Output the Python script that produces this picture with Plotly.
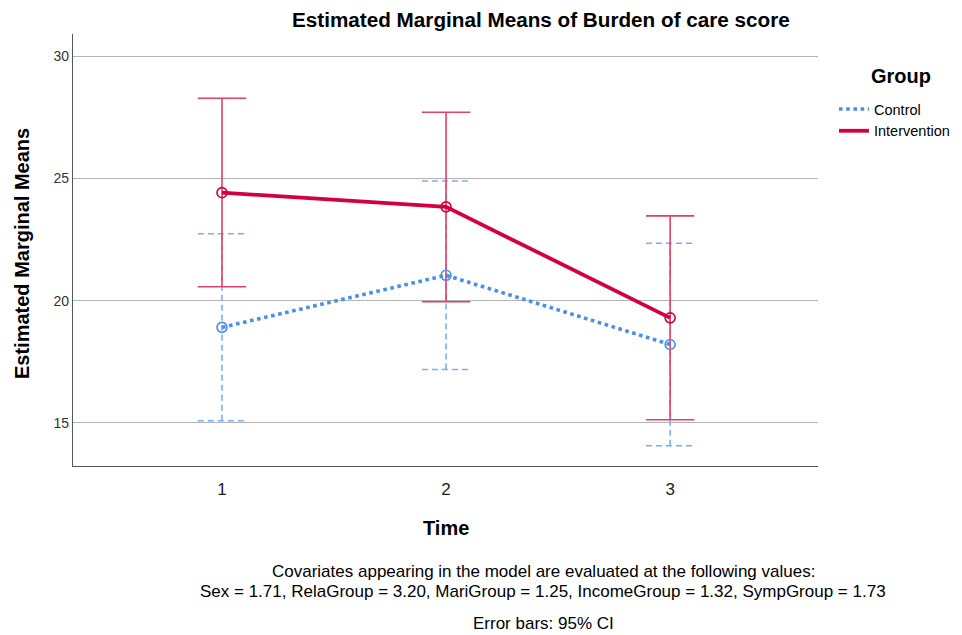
import plotly.graph_objects as go

time_points = [1, 2, 3]
groups = ["Control", "Intervention"]
control_mean = [18.91, 21.04, 18.21]
control_lower = [15.09, 17.19, 14.07]
control_upper = [22.74, 24.90, 22.35]
interv_mean = [24.42, 23.84, 19.30]
interv_lower = [20.57, 19.96, 15.13]
interv_upper = [28.28, 27.71, 23.47]
y_ticks = [15, 20, 25, 30]
x_ticks = [1, 2, 3]

title_text = "Estimated Marginal Means of Burden of care score"
footnote_1 = "Covariates appearing in the model are evaluated at the following values:"
footnote_2 = "Sex = 1.71, RelaGroup = 3.20, MariGroup = 1.25, IncomeGroup = 1.32, SympGroup = 1.73"
footnote_3 = "Error bars: 95% CI"

FONT = "Liberation Sans, Arial, sans-serif"
C_BLUE = "#4a8ee6"
C_BLUE_EB = "#7aaef0"
C_RED = "#d2003f"
C_RED_EB = "#e0406a"
CAP = 0.108

# page body has an 8px margin: figure origin sits at (8, 8) of the window
OFF = 8
W, H = 962 - OFF, 635 - OFF
L, T = 73 - OFF, 34 - OFF
PW, PH = 745, 432
R = W - L - PW
B = H - T - PH


def px(xr):
    return (xr - OFF - L) / PW


def py(yr):
    return (T + PH - (yr - OFF)) / PH


def errbar_xy(xs, lo, hi):
    ex, ey = [], []
    for x, a, b in zip(xs, lo, hi):
        ex += [x, x, None, x - CAP, x + CAP, None, x - CAP, x + CAP, None]
        ey += [a, b, None, a, a, None, b, b, None]
    return ex, ey


fig = go.Figure()

cx, cy = errbar_xy(time_points, control_lower, control_upper)
fig.add_trace(go.Scatter(x=cx, y=cy, mode="lines", showlegend=False, hoverinfo="skip",
                         line=dict(color=C_BLUE_EB, width=1.6, dash="6px,4px")))
ix, iy = errbar_xy(time_points, interv_lower, interv_upper)
fig.add_trace(go.Scatter(x=ix, y=iy, mode="lines", showlegend=False, hoverinfo="skip",
                         line=dict(color=C_RED_EB, width=1.6)))

fig.add_trace(go.Scatter(x=time_points, y=control_mean, mode="lines", name=groups[0],
                         line=dict(color=C_BLUE, width=3.6, dash="dot")))
fig.add_trace(go.Scatter(x=time_points, y=interv_mean, mode="lines", name=groups[1],
                         line=dict(color=C_RED, width=3.8)))
fig.add_trace(go.Scatter(x=time_points, y=control_mean, mode="markers", showlegend=False,
                         marker=dict(symbol="circle-open", size=10, color=C_BLUE,
                                     line=dict(width=1.6, color=C_BLUE))))
fig.add_trace(go.Scatter(x=time_points, y=interv_mean, mode="markers", showlegend=False,
                         marker=dict(symbol="circle-open", size=10, color=C_RED,
                                     line=dict(width=1.6, color=C_RED))))

ann = [
    dict(text="<b>" + title_text + "</b>", x=px(541), y=py(20), font=dict(size=20.7)),
    dict(text="<b>Estimated Marginal Means</b>", x=px(22), y=py(254), textangle=-90,
         font=dict(size=20)),
    dict(text="<b>Time</b>", x=px(446), y=py(528), font=dict(size=20)),
    dict(text="<b>Group</b>", x=px(901), y=py(76), font=dict(size=20)),
    dict(text=footnote_1, x=px(543), y=py(571), font=dict(size=17)),
    dict(text=footnote_2, x=px(543), y=py(591.5), font=dict(size=17)),
    dict(text=footnote_3, x=px(543), y=py(623), font=dict(size=17)),
]
for a in ann:
    a.update(xref="paper", yref="paper", showarrow=False, xanchor="center", yanchor="middle")
    a["font"].update(family=FONT, color="#000000")

fig.update_layout(
    width=W, height=H,
    margin=dict(l=L, r=R, t=T, b=B, autoexpand=False),
    paper_bgcolor="white", plot_bgcolor="white",
    font=dict(family=FONT, color="#000000"),
    annotations=ann,
    legend=dict(
        x=px(834), y=py(93), xanchor="left", yanchor="top",
        font=dict(size=14.5, family=FONT), itemwidth=30, tracegroupgap=0,
        bgcolor="rgba(0,0,0,0)", borderwidth=0,
    ),
    xaxis=dict(range=[0.335, 3.66], tickvals=x_ticks, ticktext=[str(v) for v in x_ticks],
               showgrid=False, zeroline=False, showline=True, linecolor="#555555", linewidth=1.2,
               ticks="", ticklabelstandoff=7, tickfont=dict(size=17, color="#222222"),
               fixedrange=True),
    yaxis=dict(range=[13.24, 30.91], tickvals=y_ticks, ticktext=[str(v) for v in y_ticks],
               showgrid=True, gridcolor="#b4b4b4", gridwidth=1, zeroline=False,
               showline=True, linecolor="#555555", linewidth=1.2,
               ticks="", tickfont=dict(size=14, color="#333333"), fixedrange=True),
)

fig.write_html("out.html")
